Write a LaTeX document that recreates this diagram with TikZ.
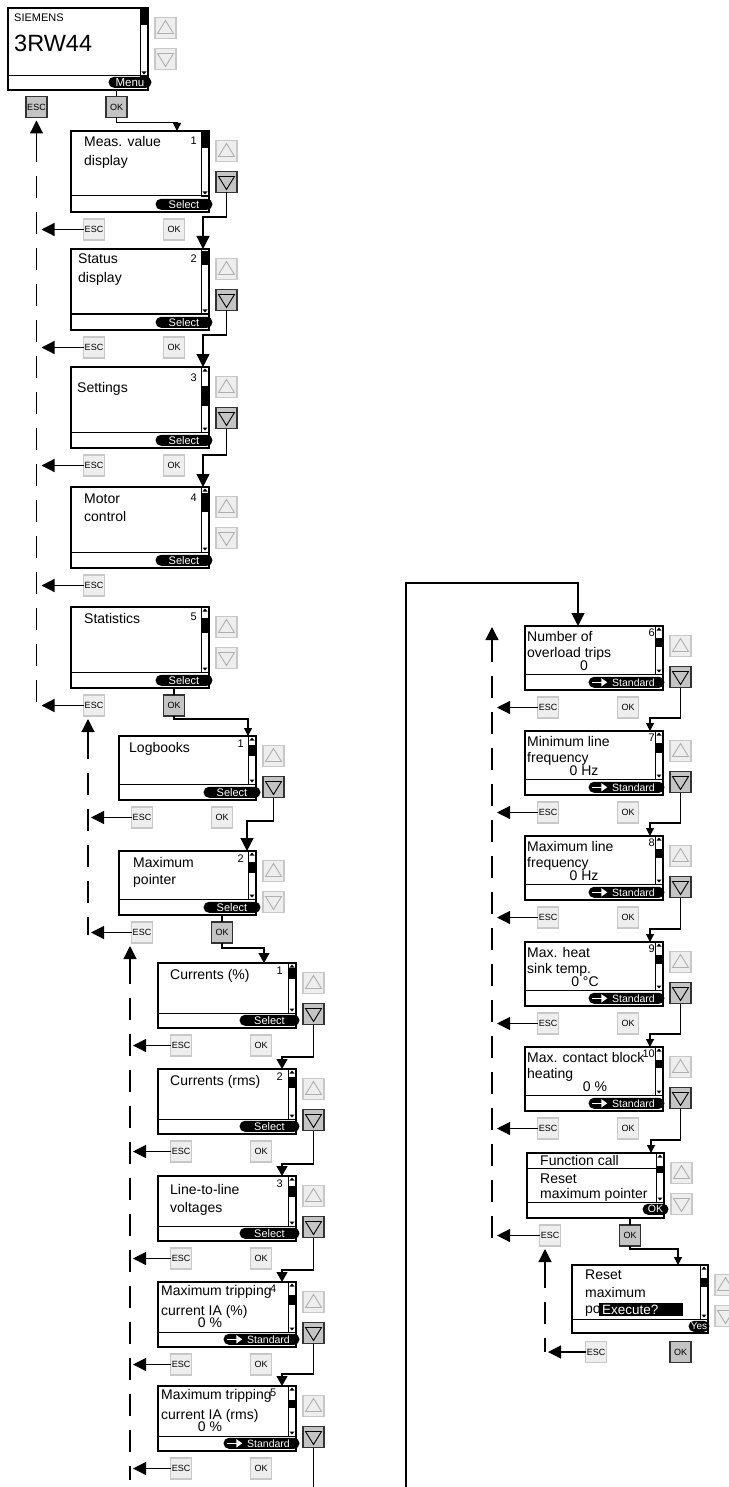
\documentclass[tikz,border=0pt]{standalone}
\usepackage{fontspec}
\setmainfont{Liberation Sans}
\usetikzlibrary{arrows.meta,calc,shapes.misc}
\definecolor{rimlight}{RGB}{200,200,200}
\definecolor{facelight}{RGB}{238,238,238}
\definecolor{facedark}{RGB}{196,196,196}
\definecolor{markgray}{RGB}{175,175,175}

% screen: name, x, y, width, height, bar, thumb from, thumb to
\newcommand{\lcdscreen}[8]{%
  \node[screen,minimum width=#4,minimum height=#5] (#1) at (#2,#3) {};
  \draw[line width=1pt] (#2,#3+#5-#6) -- (#2+#4,#3+#5-#6);
  \draw[line width=0.8pt] (#2+#4-8,#3) rectangle (#2+#4,#3+#5-#6);
  \fill (#2+#4-8,#3+#7) rectangle (#2+#4,#3+#8);
  \fill (#2+#4-4,#3+1.5) -- (#2+#4-6.5,#3+4.5) -- (#2+#4-1.5,#3+4.5) -- cycle;
  \fill (#2+#4-4,#3+#5-#6-1.5) -- (#2+#4-6.5,#3+#5-#6-4.5) -- (#2+#4-1.5,#3+#5-#6-4.5) -- cycle;}
\newcommand{\updownkeys}[2]{%
  \node[keyoff] (#1-up) at ($(#1.north east)+(17.5,20)$) {};
  \node[key#2] (#1-dn) at ($(#1.north east)+(17.5,51)$) {};
  \draw[trioff] ($(#1-up)+(0,-7.5)$) -- ($(#1-up)+(-8,5.5)$) -- ($(#1-up)+(8,5.5)$) -- cycle;
  \draw[tri#2] ($(#1-dn)+(0,7.5)$) -- ($(#1-dn)+(-8,-5.5)$) -- ($(#1-dn)+(8,-5.5)$) -- cycle;}
\newcommand{\esckeys}[3]{%
  \node[key#2] (#1-esc) at ($(#1.south west)+(23,17.5)$) {ESC};
  \node[key#3] (#1-ok) at ($(#1.south west)+(103,17.5)$) {OK};}
\newcommand{\stdpill}[2]{%
  \node[pill,minimum width=76pt,font=\fontsize{10.5pt}{11pt}\selectfont] (#1-p) at ($(#1.south east)+(#2,-2)$) {\hspace*{14pt}Standard};
  \draw[white,line width=1.6pt,-{Triangle[length=6pt,width=8pt]}] ($(#1-p.west)+(4,0)$) -- ++(15,0);}

\begin{document}
\begin{tikzpicture}[x=1pt,y=-1pt,
  screen/.style={draw,line width=1.2pt,anchor=north west,inner sep=0pt,outer sep=0pt},
  txt/.style={anchor=base west,inner sep=0pt,font=\fontsize{14pt}{16pt}\selectfont},
  val/.style={anchor=base,inner sep=0pt,font=\fontsize{14pt}{16pt}\selectfont},
  num/.style={anchor=base east,inner sep=0pt,font=\fontsize{11pt}{12pt}\selectfont},
  pill/.style={rounded rectangle,fill=black,text=white,inner sep=0pt,minimum height=11pt,anchor=south east,font=\fontsize{11pt}{11pt}\selectfont},
  keyoff/.style={draw=rimlight,fill=facelight,line width=1.5pt,minimum size=21pt,inner sep=0pt,outer sep=0pt,font=\fontsize{9pt}{9pt}\selectfont},
  keyon/.style={keyoff,draw=black!80,fill=facedark},
  trioff/.style={draw=markgray,line width=0.9pt},
  trion/.style={draw=black,line width=0.9pt},
  wire/.style={line width=1.2pt},
  arrbig/.style={wire,-{Triangle[length=13pt,width=13pt]}},
  arrmid/.style={wire,-{Triangle[length=10pt,width=11pt]}},
  arrsmall/.style={wire,-{Triangle[length=8pt,width=8pt]}},
  escline/.style={wire,dash pattern=on 22pt off 14pt}]

\fill[white] (0,0) rectangle (728,1487);
\useasboundingbox (0,0) rectangle (728,1487);

%Start display
\lcdscreen{menu}{8}{8}{140}{82}{14}{0}{17}
\node[txt,font=\fontsize{11pt}{12pt}\selectfont] (menu-t1) at (14,22) {SIEMENS};
\node[txt,font=\fontsize{23.5pt}{26pt}\selectfont] (menu-t2) at (14,52) {3RW44};
\node[pill,minimum width=43pt,font=\fontsize{11.5pt}{12pt}\selectfont] (menu-p) at ($(menu.south east)+(-2,-2)$) {Menu};
\updownkeys{menu}{off}
\node[keyon] (menu-esc) at (36.5,107) {ESC};
\node[keyon] (menu-ok) at (116.5,107) {OK};

%Menu level
\lcdscreen{meas}{71}{131}{138}{81}{16}{0}{17}
\node[txt] (meas-t1) at ($(meas.north west)+(13,16)$) {Meas. value};
\node[txt] (meas-t2) at ($(meas.north west)+(13,35)$) {display};
\node[num] (meas-n) at ($(meas.north west)+(126,14)$) {1};
\node[pill,minimum width=57pt] (meas-p) at ($(meas.south east)+(-2,-2)$) {Select};
\updownkeys{meas}{on}
\esckeys{meas}{off}{off}

\lcdscreen{status}{71}{249}{138}{81}{16}{2}{16}
\node[txt] (status-t1) at ($(status.north west)+(7,15)$) {Status};
\node[txt] (status-t2) at ($(status.north west)+(7,34)$) {display};
\node[num] (status-n) at ($(status.north west)+(126,14)$) {2};
\node[pill,minimum width=57pt] (status-p) at ($(status.south east)+(-2,-2)$) {Select};
\updownkeys{status}{on}
\esckeys{status}{off}{off}

\lcdscreen{settings}{71}{367}{138}{81}{16}{19}{39}
\node[txt] (settings-t1) at ($(settings.north west)+(6,25)$) {Settings};
\node[num] (settings-n) at ($(settings.north west)+(126,14)$) {3};
\node[pill,minimum width=57pt] (settings-p) at ($(settings.south east)+(-2,-2)$) {Select};
\updownkeys{settings}{on}
\esckeys{settings}{off}{off}

\lcdscreen{motor}{71}{487}{138}{81}{16}{6}{25}
\node[txt] (motor-t1) at ($(motor.north west)+(13,16)$) {Motor};
\node[txt] (motor-t2) at ($(motor.north west)+(13,34)$) {control};
\node[num] (motor-n) at ($(motor.north west)+(126,14)$) {4};
\node[pill,minimum width=57pt] (motor-p) at ($(motor.south east)+(-2,-2)$) {Select};
\updownkeys{motor}{off}
\node[keyoff] (motor-esc) at ($(motor.south west)+(23,17.5)$) {ESC};

\lcdscreen{stats}{71}{607}{138}{81}{16}{11}{26}
\node[txt] (stats-t1) at ($(stats.north west)+(13,16)$) {Statistics};
\node[num] (stats-n) at ($(stats.north west)+(126,13)$) {5};
\node[pill,minimum width=57pt] (stats-p) at ($(stats.south east)+(-2,-2)$) {Select};
\updownkeys{stats}{off}
\esckeys{stats}{off}{on}

%Statistics
\lcdscreen{logb}{119}{736}{137}{64}{16}{9}{20}
\node[txt] (logb-t1) at ($(logb.north west)+(10,16)$) {Logbooks};
\node[num] (logb-n) at ($(logb.north west)+(125,11)$) {1};
\node[pill,minimum width=57pt] (logb-p) at ($(logb.south east)+(-1,-2)$) {Select};
\updownkeys{logb}{on}
\esckeys{logb}{off}{off}

\lcdscreen{maxp}{119}{851}{137}{64}{16}{11}{22}
\node[txt] (maxp-t1) at ($(maxp.north west)+(14,16)$) {Maximum};
\node[txt] (maxp-t2) at ($(maxp.north west)+(14,33)$) {pointer};
\node[num] (maxp-n) at ($(maxp.north west)+(125,11)$) {2};
\node[pill,minimum width=57pt] (maxp-p) at ($(maxp.south east)+(-1,-2)$) {Select};
\updownkeys{maxp}{off}
\esckeys{maxp}{off}{on}

%Maximum pointer
\lcdscreen{curpct}{158}{963}{138}{65}{15}{5}{16}
\node[txt] (curpct-t1) at ($(curpct.north west)+(12,16)$) {Currents (\%)};
\node[num] (curpct-n) at ($(curpct.north west)+(125,11)$) {1};
\node[pill,minimum width=60pt] (curpct-p) at ($(curpct.south east)+(-2,-2)$) {Select};
\updownkeys{curpct}{on}
\esckeys{curpct}{off}{off}

\lcdscreen{currms}{158}{1069}{138}{65}{15}{8}{19}
\node[txt] (currms-t1) at ($(currms.north west)+(12,16)$) {Currents (rms)};
\node[num] (currms-n) at ($(currms.north west)+(125,11)$) {2};
\node[pill,minimum width=60pt] (currms-p) at ($(currms.south east)+(-2,-2)$) {Select};
\updownkeys{currms}{on}
\esckeys{currms}{off}{off}

\lcdscreen{llvolt}{158}{1176}{138}{65}{15}{10}{21}
\node[txt] (llvolt-t1) at ($(llvolt.north west)+(12,18)$) {Line-to-line};
\node[txt] (llvolt-t2) at ($(llvolt.north west)+(12,36)$) {voltages};
\node[num] (llvolt-n) at ($(llvolt.north west)+(125,11)$) {3};
\node[pill,minimum width=60pt] (llvolt-p) at ($(llvolt.south east)+(-2,-2)$) {Select};
\updownkeys{llvolt}{on}
\esckeys{llvolt}{off}{off}

\lcdscreen{tripa}{158}{1282}{138}{65}{15}{13}{23}
\node[txt] (tripa-t1) at ($(tripa.north west)+(3,13)$) {Maximum tripping};
\node[txt] (tripa-t2) at ($(tripa.north west)+(3,33)$) {current IA (\%)};
\node[val] (tripa-v) at ($(tripa.north west)+(52,45)$) {0 \%};
\node[num,anchor=base west] (tripa-n) at ($(tripa.north west)+(112,10)$) {4};
\stdpill{tripa}{-2}
\updownkeys{tripa}{on}
\esckeys{tripa}{off}{off}

\lcdscreen{tripb}{158}{1386}{138}{65}{15}{14}{22}
\node[txt] (tripb-t1) at ($(tripb.north west)+(3,13)$) {Maximum tripping};
\node[txt] (tripb-t2) at ($(tripb.north west)+(3,33)$) {current IA (rms)};
\node[val] (tripb-v) at ($(tripb.north west)+(52,45)$) {0 \%};
\node[num,anchor=base west] (tripb-n) at ($(tripb.north west)+(112,10)$) {5};
\stdpill{tripb}{-2}
\updownkeys{tripb}{on}
\esckeys{tripb}{off}{off}

%Continued
\lcdscreen{ovl}{525}{626}{138}{64}{16}{12}{21}
\node[txt] (ovl-t1) at ($(ovl.north west)+(2,15)$) {Number of};
\node[txt] (ovl-t2) at ($(ovl.north west)+(2,31)$) {overload trips};
\node[val] (ovl-v) at ($(ovl.north west)+(59,44)$) {0};
\node[num] (ovl-n) at ($(ovl.north west)+(130,10)$) {6};
\stdpill{ovl}{-4}
\updownkeys{ovl}{on}
\esckeys{ovl}{off}{off}

\lcdscreen{fmin}{525}{731}{138}{64}{16}{12}{22}
\node[txt] (fmin-t1) at ($(fmin.north west)+(2,15)$) {Minimum line};
\node[txt] (fmin-t2) at ($(fmin.north west)+(2,31)$) {frequency};
\node[val] (fmin-v) at ($(fmin.north west)+(59,44)$) {0 Hz};
\node[num] (fmin-n) at ($(fmin.north west)+(130,10)$) {7};
\stdpill{fmin}{-4}
\updownkeys{fmin}{on}
\esckeys{fmin}{off}{off}

\lcdscreen{fmax}{525}{836}{138}{64}{16}{13}{22}
\node[txt] (fmax-t1) at ($(fmax.north west)+(2,15)$) {Maximum line};
\node[txt] (fmax-t2) at ($(fmax.north west)+(2,31)$) {frequency};
\node[val] (fmax-v) at ($(fmax.north west)+(59,44)$) {0 Hz};
\node[num] (fmax-n) at ($(fmax.north west)+(130,10)$) {8};
\stdpill{fmax}{-4}
\updownkeys{fmax}{on}
\esckeys{fmax}{off}{off}

\lcdscreen{heat}{525}{942}{138}{64}{16}{13}{22}
\node[txt] (heat-t1) at ($(heat.north west)+(2,15)$) {Max. heat};
\node[txt] (heat-t2) at ($(heat.north west)+(2,31)$) {sink temp.};
\node[val] (heat-v) at ($(heat.north west)+(60,44)$) {0 °C};
\node[num] (heat-n) at ($(heat.north west)+(130,10)$) {9};
\stdpill{heat}{-4}
\updownkeys{heat}{on}
\esckeys{heat}{off}{off}

\lcdscreen{block}{525}{1047}{138}{64}{16}{13}{21}
\node[txt] (block-t1) at ($(block.north west)+(2,15)$) {Max. contact block};
\node[txt] (block-t2) at ($(block.north west)+(2,31)$) {heating};
\node[val] (block-v) at ($(block.north west)+(70,44)$) {0 \%};
\node[num] (block-n) at ($(block.north west)+(130,10)$) {10};
\stdpill{block}{-4}
\updownkeys{block}{on}
\esckeys{block}{off}{off}

\lcdscreen{fcall}{527}{1153}{137}{65}{16}{13}{20}
\draw[line width=1pt] ($(fcall.north west)+(0,15)$) -- ($(fcall.north east)+(-8,15)$);
\node[txt] (fcall-t1) at ($(fcall.north west)+(13,12)$) {Function call};
\node[txt] (fcall-t2) at ($(fcall.north west)+(13,30)$) {Reset};
\node[txt] (fcall-t3) at ($(fcall.north west)+(13,45)$) {maximum pointer};
\node[pill,minimum width=26pt,font=\fontsize{10.5pt}{11pt}\selectfont] (fcall-p) at ($(fcall.south east)+(-1,-3)$) {OK};
\updownkeys{fcall}{off}
\esckeys{fcall}{off}{on}

\lcdscreen{reset}{572}{1265}{136}{68}{14}{13}{22}
\node[txt] (reset-t1) at ($(reset.north west)+(13,14)$) {Reset};
\node[txt] (reset-t2) at ($(reset.north west)+(13,32)$) {maximum};
\node[txt] (reset-t3) at ($(reset.north west)+(13,48)$) {po};
\node[fill=black,text=white,anchor=north west,inner xsep=3pt,inner ysep=1.5pt,text width=78pt,align=left,font=\fontsize{13.5pt}{14pt}\selectfont] (reset-q) at ($(reset.north west)+(27,38)$) {Execute?};
\node[pill,minimum width=21pt,font=\fontsize{10pt}{10pt}\selectfont] (reset-p) at ($(reset.south east)+(-4,-1)$) {Yes};
\updownkeys{reset}{off}
\node[keyoff] (reset-esc) at ($(reset.south west)+(24,19)$) {ESC};
\node[keyon] (reset-ok) at ($(reset.south west)+(108.5,19)$) {OK};

%Connectors
\draw[wire] (menu.south -| menu-ok) -- (menu-ok);
\draw[arrsmall] (menu-ok.south) -- ++(0,5) -| ($(meas.north west)+(106,0)$);
\draw[arrbig] (meas-dn.south) |- ($(status.north east)+(-6,-32)$) -- ($(status.north east)+(-6,0)$);
\draw[arrbig] (status-dn.south) |- ($(settings.north east)+(-6,-32)$) -- ($(settings.north east)+(-6,0)$);
\draw[arrbig] (settings-dn.south) |- ($(motor.north east)+(-6,-32)$) -- ($(motor.north east)+(-6,0)$);
\draw[wire] (stats.south -| stats-ok) -- (stats-ok);
\draw[arrsmall] (stats-ok.south) -- ++(0,3) -| ($(logb.north east)+(-8,0)$);
\draw[arrbig] (logb-dn.south) |- ($(maxp.north east)+(-9,-30)$) -- ($(maxp.north east)+(-9,0)$);
\draw[wire] (maxp.south -| maxp-ok) -- (maxp-ok);
\draw[arrmid] (maxp-ok.south) -- ++(0,5) -| ($(curpct.north east)+(-32,0)$);
\draw[arrmid] (curpct-dn.south) |- ($(currms.north east)+(-14,-12)$) -- ($(currms.north east)+(-14,0)$);
\draw[arrmid] (currms-dn.south) |- ($(llvolt.north east)+(-14,-12)$) -- ($(llvolt.north east)+(-14,0)$);
\draw[arrmid] (llvolt-dn.south) |- ($(tripa.north east)+(-14,-12)$) -- ($(tripa.north east)+(-14,0)$);
\draw[arrmid] (tripa-dn.south) |- ($(tripb.north east)+(-14,-12)$) -- ($(tripb.north east)+(-14,0)$);
\coordinate (pagea) at (314,1487);
\draw[wire] (tripb-dn.south) -- (tripb-dn.south |- pagea);
\coordinate (pageb) at (406,1487);
\draw[arrbig] (pageb) |- ($(ovl.north west)+(53,-43)$) -- ($(ovl.north west)+(53,0)$);
\draw[arrsmall] (ovl-dn.south) |- ($(fmin.north east)+(-13,-13)$) -- ($(fmin.north east)+(-13,0)$);
\draw[arrsmall] (fmin-dn.south) |- ($(fmax.north east)+(-13,-13)$) -- ($(fmax.north east)+(-13,0)$);
\draw[arrsmall] (fmax-dn.south) |- ($(heat.north east)+(-13,-13)$) -- ($(heat.north east)+(-13,0)$);
\draw[arrsmall] (heat-dn.south) |- ($(block.north east)+(-13,-13)$) -- ($(block.north east)+(-13,0)$);
\draw[arrsmall] (block-dn.south) |- ($(fcall.north east)+(-13,-13)$) -- ($(fcall.north east)+(-13,0)$);
\draw[wire] (fcall.south -| fcall-ok) -- (fcall-ok);
\draw[arrsmall] (fcall-ok.south) -- ++(0,3) -| ($(reset.north east)+(-30,0)$);

%ESC paths
\coordinate (l1top) at (36.5,140);
\coordinate (l1end) at (36.5,712);
\draw[arrbig,shorten >=3pt] (l1top) -- (menu-esc);
\draw[escline] (l1top) -- (l1end);
\draw[arrbig,shorten >=5pt] (meas-esc) -- (meas-esc -| l1end);
\draw[arrbig,shorten >=5pt] (status-esc) -- (status-esc -| l1end);
\draw[arrbig,shorten >=5pt] (settings-esc) -- (settings-esc -| l1end);
\draw[arrbig,shorten >=5pt] (motor-esc) -- (motor-esc -| l1end);
\draw[arrbig,shorten >=5pt] (stats-esc) -- (stats-esc -| l1end);

\coordinate (l2top) at (88,737);
\coordinate (l2end) at (88,935);
\draw[arrbig,shorten >=3pt] (l2top) -- (l2top |- stats-esc.south);
\draw[escline] (l2top) -- (l2end);
\draw[arrbig,shorten >=3pt] (logb-esc) -- (logb-esc -| l2end);
\draw[arrbig,shorten >=3pt] (maxp-esc) -- (maxp-esc -| l2end);

\coordinate (l3top) at (130,962);
\coordinate (l3end) at (130,1480);
\draw[arrbig,shorten >=3pt] (l3top) -- (l3top |- maxp-esc.south);
\draw[escline] (l3top) -- (l3end);
\draw[arrbig,shorten >=3pt] (curpct-esc) -- (curpct-esc -| l3end);
\draw[arrbig,shorten >=3pt] (currms-esc) -- (currms-esc -| l3end);
\draw[arrbig,shorten >=3pt] (llvolt-esc) -- (llvolt-esc -| l3end);
\draw[arrbig,shorten >=3pt] (tripa-esc) -- (tripa-esc -| l3end);
\draw[arrbig,shorten >=3pt] (tripb-esc) -- (tripb-esc -| l3end);

\coordinate (rtop) at (492,640);
\coordinate (rtip) at (492,627);
\coordinate (rend) at (492,1240);
\draw[arrbig] (rtop) -- (rtip);
\draw[escline] (rtop) -- (rend);
\draw[arrbig,shorten >=5pt] (ovl-esc) -- (ovl-esc -| rend);
\draw[arrbig,shorten >=5pt] (fmin-esc) -- (fmin-esc -| rend);
\draw[arrbig,shorten >=5pt] (fmax-esc) -- (fmax-esc -| rend);
\draw[arrbig,shorten >=5pt] (heat-esc) -- (heat-esc -| rend);
\draw[arrbig,shorten >=5pt] (block-esc) -- (block-esc -| rend);
\draw[arrbig,shorten >=5pt] (fcall-esc) -- (fcall-esc -| rend);

\coordinate (r2top) at (545,1266);
\coordinate (r2end) at (545,1352);
\draw[arrbig,shorten >=3pt] (r2top) -- (r2top |- fcall-esc.south);
\draw[escline] (r2top) -- (r2end);
\draw[arrbig,shorten >=3pt] (reset-esc) -- (reset-esc -| r2end);
\end{tikzpicture}
\end{document}
